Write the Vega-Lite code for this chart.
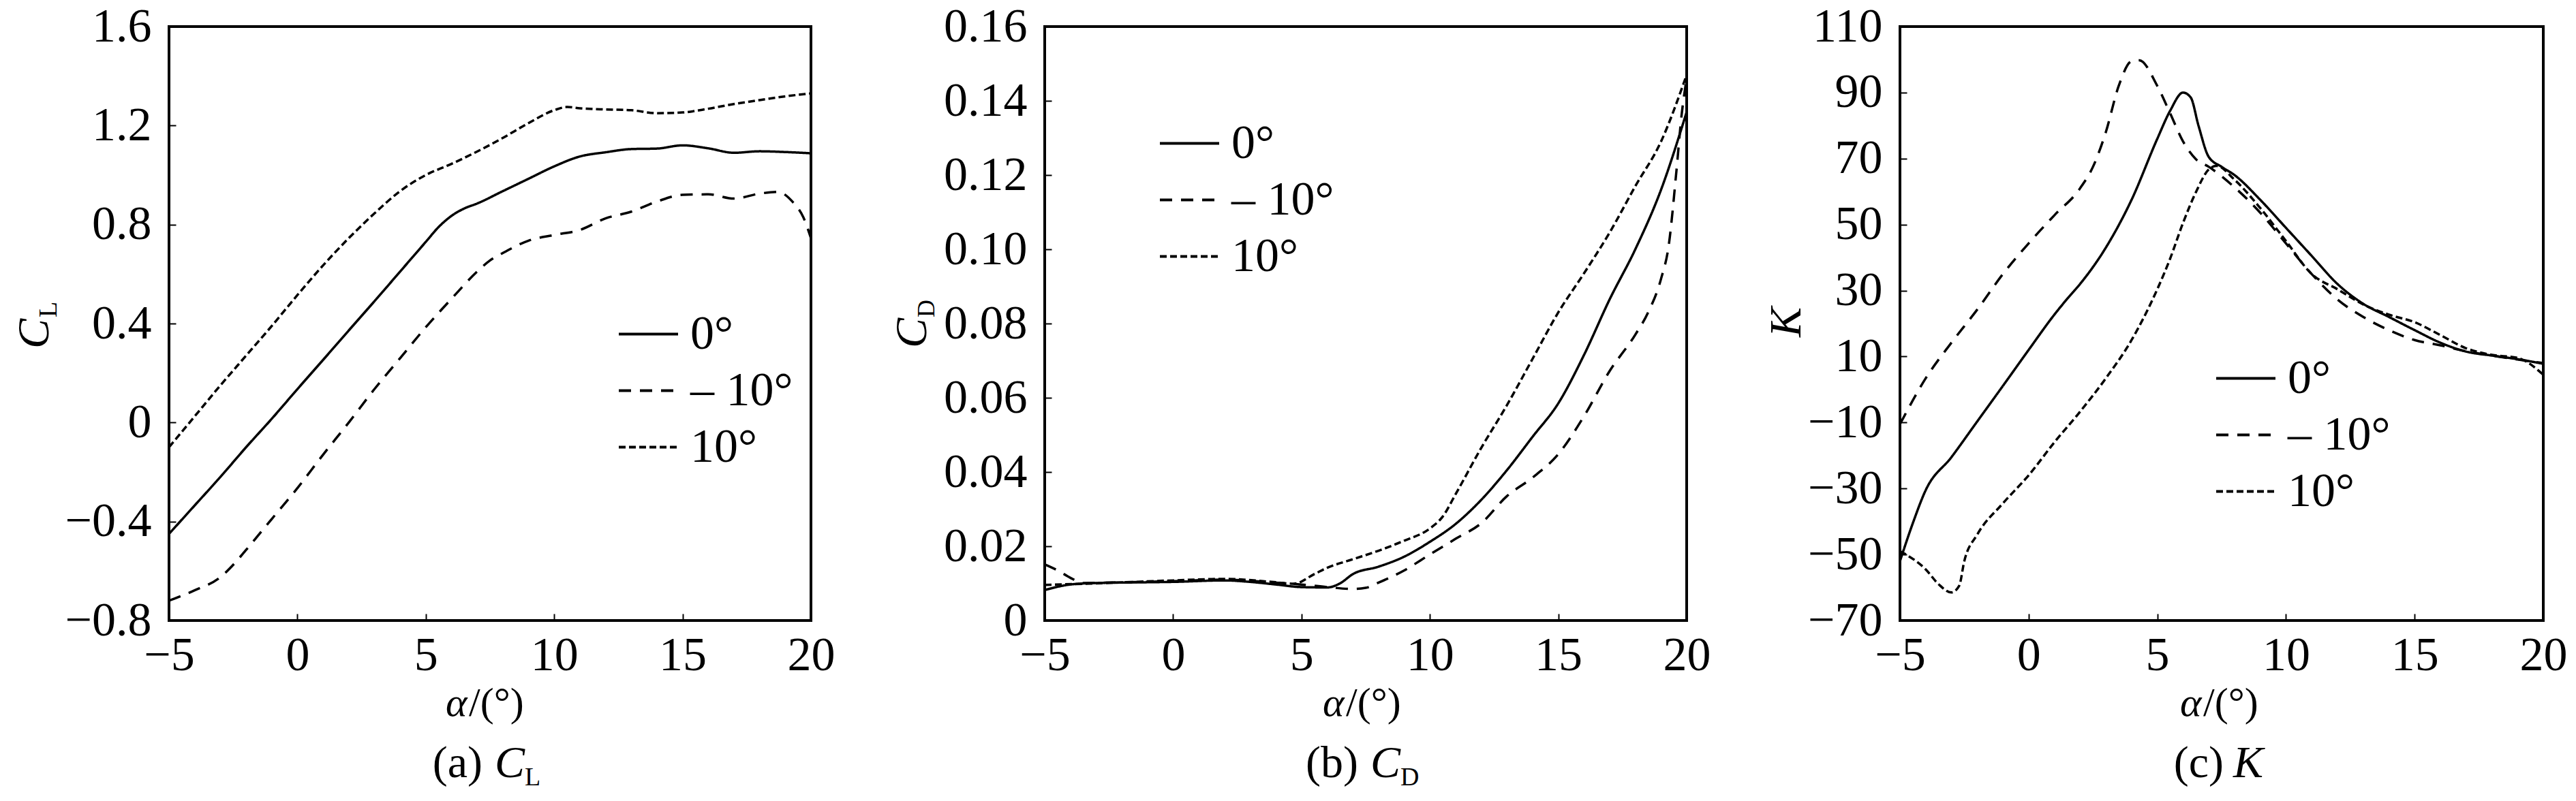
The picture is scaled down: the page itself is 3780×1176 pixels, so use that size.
{
  "$schema": "https://vega.github.io/schema/vega-lite/v6.json",
  "background": "white",
  "padding": {"left": 16, "top": 2, "right": 0, "bottom": 0},
  "datasets": {
    "cl": [
      {"c": "0°", "a": -5, "v": -0.45}, {"c": "0°", "a": -4, "v": -0.335}, {"c": "0°", "a": -3, "v": -0.22},
      {"c": "0°", "a": -2, "v": -0.1}, {"c": "0°", "a": -1, "v": 0.015}, {"c": "0°", "a": 0, "v": 0.135},
      {"c": "0°", "a": 1, "v": 0.253}, {"c": "0°", "a": 2, "v": 0.372}, {"c": "0°", "a": 3, "v": 0.49},
      {"c": "0°", "a": 4, "v": 0.61}, {"c": "0°", "a": 5, "v": 0.73}, {"c": "0°", "a": 5.5, "v": 0.79},
      {"c": "0°", "a": 6, "v": 0.835}, {"c": "0°", "a": 6.5, "v": 0.865}, {"c": "0°", "a": 7, "v": 0.885},
      {"c": "0°", "a": 8, "v": 0.935}, {"c": "0°", "a": 9, "v": 0.985}, {"c": "0°", "a": 10, "v": 1.035},
      {"c": "0°", "a": 11, "v": 1.075}, {"c": "0°", "a": 12, "v": 1.092}, {"c": "0°", "a": 13, "v": 1.105},
      {"c": "0°", "a": 14, "v": 1.107}, {"c": "0°", "a": 15, "v": 1.12}, {"c": "0°", "a": 16, "v": 1.108},
      {"c": "0°", "a": 17, "v": 1.09}, {"c": "0°", "a": 18, "v": 1.096}, {"c": "0°", "a": 19, "v": 1.093},
      {"c": "0°", "a": 20, "v": 1.088},
      {"c": "– 10°", "a": -5, "v": -0.72}, {"c": "– 10°", "a": -4, "v": -0.678}, {"c": "– 10°", "a": -3, "v": -0.625},
      {"c": "– 10°", "a": -2.5, "v": -0.575}, {"c": "– 10°", "a": -2, "v": -0.515}, {"c": "– 10°", "a": -1, "v": -0.39},
      {"c": "– 10°", "a": 0, "v": -0.265}, {"c": "– 10°", "a": 1, "v": -0.13}, {"c": "– 10°", "a": 2, "v": 0.0},
      {"c": "– 10°", "a": 3, "v": 0.135}, {"c": "– 10°", "a": 4, "v": 0.26}, {"c": "– 10°", "a": 5, "v": 0.385},
      {"c": "– 10°", "a": 6, "v": 0.5}, {"c": "– 10°", "a": 7, "v": 0.61}, {"c": "– 10°", "a": 7.5, "v": 0.655},
      {"c": "– 10°", "a": 8, "v": 0.685}, {"c": "– 10°", "a": 9, "v": 0.735}, {"c": "– 10°", "a": 10, "v": 0.758},
      {"c": "– 10°", "a": 11, "v": 0.778}, {"c": "– 10°", "a": 12, "v": 0.825}, {"c": "– 10°", "a": 13, "v": 0.852},
      {"c": "– 10°", "a": 14, "v": 0.893}, {"c": "– 10°", "a": 15, "v": 0.92}, {"c": "– 10°", "a": 16, "v": 0.922},
      {"c": "– 10°", "a": 17, "v": 0.905}, {"c": "– 10°", "a": 18, "v": 0.925}, {"c": "– 10°", "a": 18.7, "v": 0.932},
      {"c": "– 10°", "a": 19.3, "v": 0.89}, {"c": "– 10°", "a": 19.7, "v": 0.83}, {"c": "– 10°", "a": 20, "v": 0.745},
      {"c": "10°", "a": -5, "v": -0.1}, {"c": "10°", "a": -4, "v": 0.025}, {"c": "10°", "a": -3, "v": 0.15},
      {"c": "10°", "a": -2, "v": 0.27}, {"c": "10°", "a": -1, "v": 0.39}, {"c": "10°", "a": 0, "v": 0.515},
      {"c": "10°", "a": 1, "v": 0.635}, {"c": "10°", "a": 2, "v": 0.745}, {"c": "10°", "a": 3, "v": 0.845},
      {"c": "10°", "a": 4, "v": 0.935}, {"c": "10°", "a": 5, "v": 1.0}, {"c": "10°", "a": 6, "v": 1.045},
      {"c": "10°", "a": 7, "v": 1.095}, {"c": "10°", "a": 8, "v": 1.15}, {"c": "10°", "a": 9, "v": 1.21},
      {"c": "10°", "a": 10, "v": 1.262}, {"c": "10°", "a": 10.5, "v": 1.275}, {"c": "10°", "a": 11, "v": 1.27},
      {"c": "10°", "a": 12, "v": 1.265}, {"c": "10°", "a": 13, "v": 1.262}, {"c": "10°", "a": 14, "v": 1.25},
      {"c": "10°", "a": 15, "v": 1.253}, {"c": "10°", "a": 16, "v": 1.268}, {"c": "10°", "a": 17, "v": 1.287},
      {"c": "10°", "a": 18, "v": 1.303}, {"c": "10°", "a": 19, "v": 1.318}, {"c": "10°", "a": 20, "v": 1.33}
    ],
    "cd": [
      {"c": "0°", "a": -5, "v": 0.0082}, {"c": "0°", "a": -4, "v": 0.0097}, {"c": "0°", "a": -3, "v": 0.0101},
      {"c": "0°", "a": -1, "v": 0.0103}, {"c": "0°", "a": 0, "v": 0.0104}, {"c": "0°", "a": 2, "v": 0.0108},
      {"c": "0°", "a": 3, "v": 0.0104}, {"c": "0°", "a": 4, "v": 0.0097}, {"c": "0°", "a": 5, "v": 0.009},
      {"c": "0°", "a": 6, "v": 0.0089}, {"c": "0°", "a": 6.5, "v": 0.01}, {"c": "0°", "a": 7, "v": 0.0125},
      {"c": "0°", "a": 8, "v": 0.0145}, {"c": "0°", "a": 9, "v": 0.0172}, {"c": "0°", "a": 10, "v": 0.0212},
      {"c": "0°", "a": 11, "v": 0.026}, {"c": "0°", "a": 12, "v": 0.0325}, {"c": "0°", "a": 13, "v": 0.0405},
      {"c": "0°", "a": 14, "v": 0.0495}, {"c": "0°", "a": 15, "v": 0.0585}, {"c": "0°", "a": 16, "v": 0.0715},
      {"c": "0°", "a": 17, "v": 0.0865}, {"c": "0°", "a": 18, "v": 0.1}, {"c": "0°", "a": 19, "v": 0.116},
      {"c": "0°", "a": 20, "v": 0.137},
      {"c": "– 10°", "a": -5, "v": 0.0151}, {"c": "– 10°", "a": -4.5, "v": 0.0135}, {"c": "– 10°", "a": -4, "v": 0.0115},
      {"c": "– 10°", "a": -3.5, "v": 0.0101}, {"c": "– 10°", "a": -2, "v": 0.0103}, {"c": "– 10°", "a": 0, "v": 0.0106},
      {"c": "– 10°", "a": 2, "v": 0.011}, {"c": "– 10°", "a": 4, "v": 0.0102}, {"c": "– 10°", "a": 5, "v": 0.0097},
      {"c": "– 10°", "a": 6, "v": 0.009}, {"c": "– 10°", "a": 7, "v": 0.0085}, {"c": "– 10°", "a": 7.5, "v": 0.0088},
      {"c": "– 10°", "a": 8, "v": 0.0102}, {"c": "– 10°", "a": 9, "v": 0.0135}, {"c": "– 10°", "a": 10, "v": 0.0178},
      {"c": "– 10°", "a": 11, "v": 0.022}, {"c": "– 10°", "a": 12, "v": 0.0262}, {"c": "– 10°", "a": 13, "v": 0.0335},
      {"c": "– 10°", "a": 14, "v": 0.0385}, {"c": "– 10°", "a": 15, "v": 0.0448}, {"c": "– 10°", "a": 16, "v": 0.055},
      {"c": "– 10°", "a": 17, "v": 0.0672}, {"c": "– 10°", "a": 18, "v": 0.077}, {"c": "– 10°", "a": 18.5, "v": 0.083},
      {"c": "– 10°", "a": 19, "v": 0.092}, {"c": "– 10°", "a": 19.3, "v": 0.101}, {"c": "– 10°", "a": 19.6, "v": 0.121},
      {"c": "– 10°", "a": 19.8, "v": 0.136}, {"c": "– 10°", "a": 20, "v": 0.146},
      {"c": "10°", "a": -5, "v": 0.0096}, {"c": "10°", "a": -3, "v": 0.01}, {"c": "10°", "a": 0, "v": 0.0108},
      {"c": "10°", "a": 2, "v": 0.0112}, {"c": "10°", "a": 4, "v": 0.0103}, {"c": "10°", "a": 4.7, "v": 0.0099},
      {"c": "10°", "a": 5.5, "v": 0.0125}, {"c": "10°", "a": 6, "v": 0.0142}, {"c": "10°", "a": 7, "v": 0.0165},
      {"c": "10°", "a": 8, "v": 0.0188}, {"c": "10°", "a": 9, "v": 0.0215}, {"c": "10°", "a": 10, "v": 0.0248},
      {"c": "10°", "a": 10.5, "v": 0.028}, {"c": "10°", "a": 11, "v": 0.034}, {"c": "10°", "a": 12, "v": 0.0465},
      {"c": "10°", "a": 13, "v": 0.058}, {"c": "10°", "a": 14, "v": 0.0705}, {"c": "10°", "a": 15, "v": 0.083},
      {"c": "10°", "a": 16, "v": 0.0935}, {"c": "10°", "a": 17, "v": 0.1045}, {"c": "10°", "a": 18, "v": 0.117},
      {"c": "10°", "a": 19, "v": 0.129}, {"c": "10°", "a": 20, "v": 0.147}
    ],
    "k": [
      {"c": "0°", "a": -5, "v": -52}, {"c": "0°", "a": -4.5, "v": -40.5}, {"c": "0°", "a": -4, "v": -30.5},
      {"c": "0°", "a": -3, "v": -20.5}, {"c": "0°", "a": -2, "v": -9.7}, {"c": "0°", "a": -1, "v": 1.1},
      {"c": "0°", "a": 0, "v": 12}, {"c": "0°", "a": 1, "v": 22.7}, {"c": "0°", "a": 1.5, "v": 27.5},
      {"c": "0°", "a": 2, "v": 32}, {"c": "0°", "a": 3, "v": 43}, {"c": "0°", "a": 4, "v": 57.5},
      {"c": "0°", "a": 5, "v": 76}, {"c": "0°", "a": 5.5, "v": 84.5}, {"c": "0°", "a": 6, "v": 90},
      {"c": "0°", "a": 6.3, "v": 88.5}, {"c": "0°", "a": 6.6, "v": 80}, {"c": "0°", "a": 7, "v": 70.5},
      {"c": "0°", "a": 7.5, "v": 67.5}, {"c": "0°", "a": 8, "v": 65}, {"c": "0°", "a": 9, "v": 57.5},
      {"c": "0°", "a": 10, "v": 49}, {"c": "0°", "a": 11, "v": 40.5}, {"c": "0°", "a": 12, "v": 32},
      {"c": "0°", "a": 13, "v": 26}, {"c": "0°", "a": 14, "v": 22}, {"c": "0°", "a": 15, "v": 18},
      {"c": "0°", "a": 16, "v": 14.2}, {"c": "0°", "a": 17, "v": 11.5}, {"c": "0°", "a": 18, "v": 10.3},
      {"c": "0°", "a": 19, "v": 9.2}, {"c": "0°", "a": 20, "v": 7.8},
      {"c": "– 10°", "a": -5, "v": -10.5}, {"c": "– 10°", "a": -4, "v": 3.4}, {"c": "– 10°", "a": -3, "v": 14.2},
      {"c": "– 10°", "a": -2, "v": 24.2}, {"c": "– 10°", "a": -1, "v": 35}, {"c": "– 10°", "a": 0, "v": 44.3},
      {"c": "– 10°", "a": 1, "v": 52.8}, {"c": "– 10°", "a": 2, "v": 61}, {"c": "– 10°", "a": 2.5, "v": 67.5},
      {"c": "– 10°", "a": 3, "v": 78}, {"c": "– 10°", "a": 3.5, "v": 92}, {"c": "– 10°", "a": 4, "v": 99.5},
      {"c": "– 10°", "a": 4.3, "v": 99.8}, {"c": "– 10°", "a": 5, "v": 92}, {"c": "– 10°", "a": 5.5, "v": 83.7},
      {"c": "– 10°", "a": 6, "v": 75.2}, {"c": "– 10°", "a": 6.5, "v": 69.8}, {"c": "– 10°", "a": 7, "v": 67.5},
      {"c": "– 10°", "a": 8, "v": 61.3}, {"c": "– 10°", "a": 9, "v": 53.6}, {"c": "– 10°", "a": 10, "v": 44.3},
      {"c": "– 10°", "a": 11, "v": 35}, {"c": "– 10°", "a": 12, "v": 27.3}, {"c": "– 10°", "a": 13, "v": 22},
      {"c": "– 10°", "a": 14, "v": 18}, {"c": "– 10°", "a": 15, "v": 15}, {"c": "– 10°", "a": 16, "v": 13.4},
      {"c": "– 10°", "a": 17, "v": 11.6}, {"c": "– 10°", "a": 18, "v": 10.3}, {"c": "– 10°", "a": 19, "v": 9.1},
      {"c": "– 10°", "a": 20, "v": 8},
      {"c": "10°", "a": -5, "v": -49}, {"c": "10°", "a": -4, "v": -54.5}, {"c": "10°", "a": -3.5, "v": -59},
      {"c": "10°", "a": -3, "v": -61.5}, {"c": "10°", "a": -2.7, "v": -59.5}, {"c": "10°", "a": -2.5, "v": -52},
      {"c": "10°", "a": -2, "v": -44}, {"c": "10°", "a": -1, "v": -34.5}, {"c": "10°", "a": 0, "v": -26},
      {"c": "10°", "a": 1, "v": -16}, {"c": "10°", "a": 2, "v": -6.7}, {"c": "10°", "a": 3, "v": 3.4},
      {"c": "10°", "a": 4, "v": 15}, {"c": "10°", "a": 5, "v": 30.4}, {"c": "10°", "a": 5.5, "v": 39.7},
      {"c": "10°", "a": 6, "v": 50.5}, {"c": "10°", "a": 6.5, "v": 59.8}, {"c": "10°", "a": 7, "v": 66.7},
      {"c": "10°", "a": 7.3, "v": 67.8}, {"c": "10°", "a": 8, "v": 63.6}, {"c": "10°", "a": 9, "v": 55},
      {"c": "10°", "a": 10, "v": 45}, {"c": "10°", "a": 11, "v": 35}, {"c": "10°", "a": 12, "v": 30.4},
      {"c": "10°", "a": 13, "v": 25.8}, {"c": "10°", "a": 14, "v": 22.7}, {"c": "10°", "a": 15, "v": 20.4},
      {"c": "10°", "a": 16, "v": 16.5}, {"c": "10°", "a": 17, "v": 12.5}, {"c": "10°", "a": 18, "v": 10.5},
      {"c": "10°", "a": 19, "v": 9.6}, {"c": "10°", "a": 20, "v": 4.5}
    ]
  },
  "bounds": "flush",
  "spacing": 343,
  "resolve": {"scale": {"strokeDash": "independent"}, "legend": {"strokeDash": "independent"}},
  "hconcat": [
    {
      "width": 942,
      "height": 872,
      "layer": [
        {
          "data": {"name": "cl"},
          "mark": {"type": "line", "interpolate": "monotone", "color": "black", "strokeWidth": 3.5},
          "encoding": {
            "x": {"field": "a", "type": "quantitative", "scale": {"domain": [-5, 20], "nice": false},
                  "axis": {"values": [-5, 0, 5, 10, 15, 20], "title": null, "labelPadding": 27}},
            "y": {"field": "v", "type": "quantitative", "scale": {"domain": [-0.8, 1.6], "nice": false, "zero": false},
                  "axis": {"values": [-0.8, -0.4, 0, 0.4, 0.8, 1.2, 1.6], "title": null, "labelPadding": 36,
                           "labelExpr": "datum.value == 0 ? '0' : format(datum.value, '.1f')"}},
            "strokeDash": {"field": "c", "type": "nominal",
                           "scale": {"domain": ["0°", "– 10°", "10°"], "range": [[1, 0], [18, 13], [10, 5]]},
                           "legend": {"orient": "none", "legendX": 658, "legendY": 406}}
          }
        },
        {"data": {"values": [{}]}, "mark": {"type": "text", "text": "α", "fontStyle": "italic", "fontSize": 60, "align": "left", "dx": -65, "dy": 140},
         "encoding": {"x": {"datum": 7.5}, "y": {"datum": -0.8}}},
        {"data": {"values": [{}]}, "mark": {"type": "text", "text": "/(°)", "fontSize": 60, "align": "left", "dx": -31, "dy": 140},
         "encoding": {"x": {"datum": 7.5}, "y": {"datum": -0.8}}},
        {"data": {"values": [{}]}, "mark": {"type": "text", "text": "(a)", "fontSize": 66, "align": "right", "dx": -11, "dy": 230},
         "encoding": {"x": {"datum": 7.5}, "y": {"datum": -0.8}}},
        {"data": {"values": [{}]}, "mark": {"type": "text", "text": "C", "fontStyle": "italic", "fontSize": 66, "align": "left", "dx": 7, "dy": 230},
         "encoding": {"x": {"datum": 7.5}, "y": {"datum": -0.8}}},
        {"data": {"values": [{}]}, "mark": {"type": "text", "text": "L", "fontSize": 38, "align": "left", "dx": 51, "dy": 242},
         "encoding": {"x": {"datum": 7.5}, "y": {"datum": -0.8}}},
        {"data": {"values": [{}]}, "mark": {"type": "text", "text": "C", "fontStyle": "italic", "fontSize": 66, "angle": 270, "align": "left", "dx": -37, "dy": -177},
         "encoding": {"x": {"datum": -5}, "y": {"datum": 0.4}}},
        {"data": {"values": [{}]}, "mark": {"type": "text", "text": "L", "fontSize": 38, "angle": 270, "align": "left", "dx": 9, "dy": -165},
         "encoding": {"x": {"datum": -5}, "y": {"datum": 0.4}}}
      ]
    },
    {
      "bounds": "flush",
      "spacing": 313,
      "resolve": {"scale": {"strokeDash": "independent"}, "legend": {"strokeDash": "independent"}},
      "hconcat": [
        {
          "width": 942,
          "height": 872,
          "layer": [
            {
              "data": {"name": "cd"},
              "mark": {"type": "line", "interpolate": "monotone", "color": "black", "strokeWidth": 3.5},
              "encoding": {
                "x": {"field": "a", "type": "quantitative", "scale": {"domain": [-5, 20], "nice": false},
                      "axis": {"values": [-5, 0, 5, 10, 15, 20], "title": null, "labelPadding": 27}},
                "y": {"field": "v", "type": "quantitative", "scale": {"domain": [0, 0.16], "nice": false},
                      "axis": {"values": [0, 0.02, 0.04, 0.06, 0.08, 0.1, 0.12, 0.14, 0.16], "title": null, "labelPadding": 36,
                               "labelExpr": "datum.value == 0 ? '0' : format(datum.value, '.2f')"}},
                "strokeDash": {"field": "c", "type": "nominal",
                               "scale": {"domain": ["0°", "– 10°", "10°"], "range": [[1, 0], [18, 13], [10, 5]]},
                               "legend": {"orient": "none", "legendX": 167, "legendY": 126}}
              }
            },
            {"data": {"values": [{}]}, "mark": {"type": "text", "text": "α", "fontStyle": "italic", "fontSize": 60, "align": "left", "dx": -63, "dy": 140},
             "encoding": {"x": {"datum": 7.5}, "y": {"datum": 0}}},
            {"data": {"values": [{}]}, "mark": {"type": "text", "text": "/(°)", "fontSize": 60, "align": "left", "dx": -29, "dy": 140},
             "encoding": {"x": {"datum": 7.5}, "y": {"datum": 0}}},
            {"data": {"values": [{}]}, "mark": {"type": "text", "text": "(b)", "fontSize": 66, "align": "right", "dx": -11, "dy": 230},
             "encoding": {"x": {"datum": 7.5}, "y": {"datum": 0}}},
            {"data": {"values": [{}]}, "mark": {"type": "text", "text": "C", "fontStyle": "italic", "fontSize": 66, "align": "left", "dx": 7, "dy": 230},
             "encoding": {"x": {"datum": 7.5}, "y": {"datum": 0}}},
            {"data": {"values": [{}]}, "mark": {"type": "text", "text": "D", "fontSize": 38, "align": "left", "dx": 51, "dy": 242},
             "encoding": {"x": {"datum": 7.5}, "y": {"datum": 0}}},
            {"data": {"values": [{}]}, "mark": {"type": "text", "text": "C", "fontStyle": "italic", "fontSize": 66, "angle": 270, "align": "left", "dx": -36, "dy": -174},
             "encoding": {"x": {"datum": -5}, "y": {"datum": 0.08}}},
            {"data": {"values": [{}]}, "mark": {"type": "text", "text": "D", "fontSize": 36, "angle": 270, "align": "left", "dx": 9, "dy": -162},
             "encoding": {"x": {"datum": -5}, "y": {"datum": 0.08}}}
          ]
        },
        {
          "width": 944,
          "height": 872,
          "layer": [
            {
              "data": {"name": "k"},
              "mark": {"type": "line", "interpolate": "monotone", "color": "black", "strokeWidth": 3.5},
              "encoding": {
                "x": {"field": "a", "type": "quantitative", "scale": {"domain": [-5, 20], "nice": false},
                      "axis": {"values": [-5, 0, 5, 10, 15, 20], "title": null, "labelPadding": 27}},
                "y": {"field": "v", "type": "quantitative", "scale": {"domain": [-70, 110], "nice": false, "zero": false},
                      "axis": {"values": [-70, -50, -30, -10, 10, 30, 50, 70, 90, 110], "title": null, "labelPadding": 36, "format": "d"}},
                "strokeDash": {"field": "c", "type": "nominal",
                               "scale": {"domain": ["0°", "– 10°", "10°"], "range": [[1, 0], [18, 13], [10, 5]]},
                               "legend": {"orient": "none", "legendX": 462, "legendY": 471}}
              }
            },
            {"data": {"values": [{}]}, "mark": {"type": "text", "text": "α", "fontStyle": "italic", "fontSize": 60, "align": "left", "dx": -61, "dy": 140},
             "encoding": {"x": {"datum": 7.5}, "y": {"datum": -70}}},
            {"data": {"values": [{}]}, "mark": {"type": "text", "text": "/(°)", "fontSize": 60, "align": "left", "dx": -27, "dy": 140},
             "encoding": {"x": {"datum": 7.5}, "y": {"datum": -70}}},
            {"data": {"values": [{}]}, "mark": {"type": "text", "text": "(c)", "fontSize": 66, "align": "right", "dx": 3, "dy": 230},
             "encoding": {"x": {"datum": 7.5}, "y": {"datum": -70}}},
            {"data": {"values": [{}]}, "mark": {"type": "text", "text": "K", "fontStyle": "italic", "fontSize": 66, "align": "left", "dx": 17, "dy": 230},
             "encoding": {"x": {"datum": 7.5}, "y": {"datum": -70}}},
            {"data": {"values": [{}]}, "mark": {"type": "text", "text": "K", "fontStyle": "italic", "fontSize": 66, "angle": 270, "align": "center", "dx": 2, "dy": -146},
             "encoding": {"x": {"datum": -5}, "y": {"datum": 20}}}
          ]
        }
      ]
    }
  ],
  "config": {
    "font": "Liberation Serif",
    "view": {"stroke": "black", "strokeWidth": 4},
    "text": {"font": "Liberation Serif", "color": "black", "baseline": "alphabetic"},
    "axis": {
      "domain": false,
      "grid": false,
      "ticks": true,
      "tickColor": "black",
      "tickWidth": 2,
      "tickSize": -10,
      "labelFont": "Liberation Serif",
      "labelFontSize": 70,
      "labelColor": "black",
      "labelFlush": false,
      "labelOverlap": false
    },
    "legend": {
      "title": null,
      "padding": 0,
      "symbolType": "stroke",
      "symbolSize": 7569,
      "symbolStrokeWidth": 4,
      "symbolStrokeColor": "black",
      "labelFont": "Liberation Serif",
      "labelFontSize": 70,
      "labelColor": "black",
      "labelOffset": 16,
      "labelLimit": 0
    }
  }
}
